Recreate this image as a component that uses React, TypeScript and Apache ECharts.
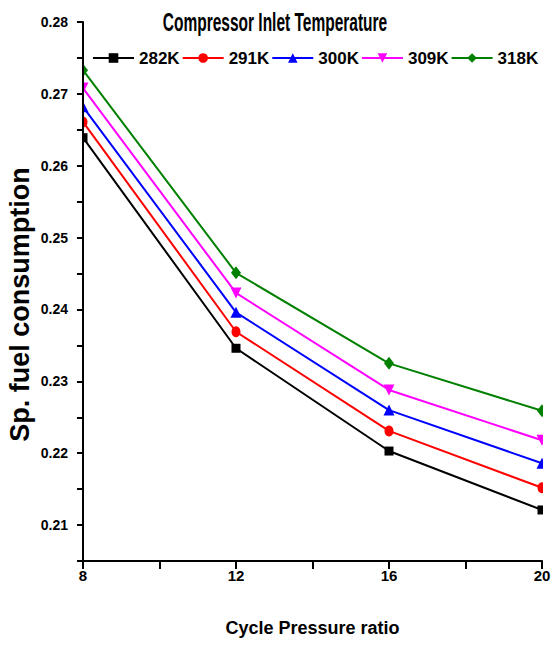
import React, { useEffect, useRef } from "react";
import * as echarts from "echarts";

const pressureRatios = [8, 12, 16, 20];
const seriesNames = ["282K", "291K", "300K", "309K", "318K"];
const sfc282 = [0.2639, 0.2346, 0.2203, 0.2121];
const sfc291 = [0.2661, 0.2369, 0.2231, 0.2152];
const sfc300 = [0.2682, 0.2396, 0.226, 0.2186];
const sfc309 = [0.2708, 0.2423, 0.2288, 0.2218];
const sfc318 = [0.2733, 0.2451, 0.2325, 0.2259];
const xTickLabels = [8, 12, 16, 20];
const yTickLabels = [0.21, 0.22, 0.23, 0.24, 0.25, 0.26, 0.27, 0.28];

const SANS = "'Liberation Sans', Arial, sans-serif";

export default function App() {
  const ref = useRef<HTMLDivElement>(null);
  useEffect(() => {
    if (!ref.current) return;
    const chart = echarts.init(ref.current, undefined, { renderer: "svg" });
    const values = [sfc282, sfc291, sfc300, sfc309, sfc318];
    const colors = ["#000000", "#ff0000", "#0000ff", "#ff00ff", "#008000"];
    const symbols = ["rect", "circle", "triangle", "triangle", "diamond"];
    const symbolSizes: any[] = [9, [9, 11], 11, 11, [10, 13]];
    const rotates = [0, 0, 0, 180, 0];
    const series = seriesNames.map((name, i) => ({
      name,
      type: "line",
      data: pressureRatios.map((x, j) => [x, values[i][j]]),
      color: colors[i],
      symbol: symbols[i],
      symbolSize: symbolSizes[i],
      symbolRotate: rotates[i],
      showSymbol: true,
      lineStyle: { width: 2, color: colors[i] },
      itemStyle: { color: colors[i] },
      z: 2,
    }));
    chart.setOption({
      animation: false,
      backgroundColor: "#ffffff",
      grid: {
        left: 83,
        right: 18,
        top: 22,
        bottom: 86,
        containLabel: false,
        outerBoundsMode: "none",
      },
      legend: {
        data: seriesNames,
        left: 92,
        top: 48,
        itemWidth: 41,
        itemHeight: 12,
        itemGap: 2,
        padding: 0,
        textStyle: {
          fontFamily: SANS,
          fontWeight: "bold",
          fontSize: 17,
          color: "#000",
          lineHeight: 20,
        },
      },
      xAxis: {
        type: "value",
        min: 8,
        max: 20,
        interval: 2,
        z: 10,
        splitLine: { show: false },
        axisLine: { lineStyle: { color: "#000", width: 2 } },
        axisTick: { length: 8, lineStyle: { color: "#000", width: 2 } },
        axisLabel: {
          color: "#000",
          fontFamily: SANS,
          fontWeight: "bold",
          fontSize: 15,
          margin: 7,
          formatter: (v: number) => (xTickLabels.includes(v) ? String(v) : ""),
        },
        name: "Cycle Pressure ratio",
        nameLocation: "middle",
        nameGap: 58,
        nameMoveOverlap: false,
        nameTextStyle: {
          color: "#000",
          fontFamily: SANS,
          fontWeight: "bold",
          fontSize: 18,
        },
      },
      yAxis: {
        type: "value",
        min: 0.205,
        max: 0.28,
        interval: 0.005,
        z: 10,
        splitLine: { show: false },
        axisLine: { onZero: false, lineStyle: { color: "#000", width: 2 } },
        axisTick: { length: 6, lineStyle: { color: "#000", width: 2 } },
        axisLabel: {
          color: "#000",
          fontFamily: SANS,
          fontWeight: "bold",
          fontSize: 14,
          margin: 15,
          formatter: (v: number) => {
            const hit = yTickLabels.find((t) => Math.abs(t - v) < 1e-6);
            return hit !== undefined ? hit.toFixed(2) : "";
          },
        },
        name: "Sp. fuel consumption",
        nameLocation: "middle",
        nameGap: 50,
        nameMoveOverlap: false,
        nameTextStyle: {
          color: "#000",
          fontFamily: SANS,
          fontWeight: "bold",
          fontSize: 27,
          padding: [0, 26, 0, 0],
        },
      },
      graphic: {
        elements: [
          {
            type: "text",
            x: 275,
            y: 22,
            scaleX: 0.62,
            style: {
              text: "Compressor Inlet Temperature",
              fontFamily: SANS,
              fontWeight: "bold",
              fontSize: 25,
              fill: "#000",
              textAlign: "center",
              textVerticalAlign: "middle",
            },
          },
          {
            type: "rect",
            z: 5,
            shape: { x: 74, y: 20, width: 9, height: 541 },
            style: { fill: "#ffffff" },
          },
          {
            type: "rect",
            z: 5,
            shape: { x: 543, y: 20, width: 17, height: 541 },
            style: { fill: "#ffffff" },
          },
        ],
      },
      series,
    });
    return () => chart.dispose();
  }, []);
  return (
    <div
      ref={ref}
      style={{ position: "fixed", left: 0, top: 0, width: 560, height: 647 }}
    />
  );
}
